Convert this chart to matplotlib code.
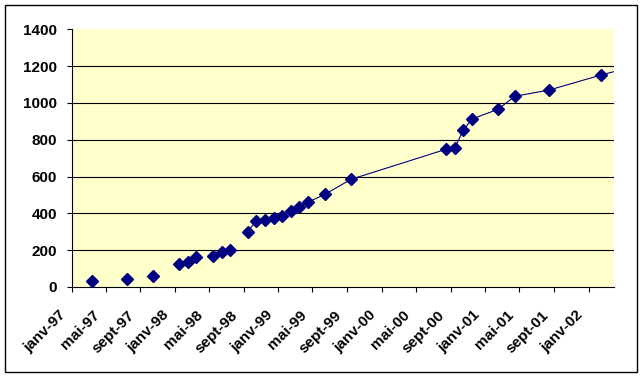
import matplotlib
matplotlib.use("Agg")
import matplotlib.pyplot as plt
import matplotlib.dates as mdates
import matplotlib.transforms as mtransforms
from matplotlib.patches import Rectangle
from datetime import date

# Data (mid-month dates, values)
dates = [
    date(1997, 3, 15), date(1997, 7, 15), date(1997, 10, 15),
    date(1998, 1, 15), date(1998, 2, 15), date(1998, 3, 15),
    date(1998, 5, 15), date(1998, 6, 15), date(1998, 7, 15),
    date(1998, 9, 15), date(1998, 10, 15), date(1998, 11, 15),
    date(1998, 12, 15), date(1999, 1, 15), date(1999, 2, 15),
    date(1999, 3, 15), date(1999, 4, 15), date(1999, 6, 15),
    date(1999, 9, 15), date(2000, 8, 15), date(2000, 9, 15),
    date(2000, 10, 15), date(2000, 11, 15), date(2001, 2, 15),
    date(2001, 4, 15), date(2001, 8, 15), date(2002, 2, 15),
    date(2002, 6, 15),
]
values = [
    30, 42, 58,
    123, 137, 161,
    170, 188, 199,
    300, 360, 366,
    376, 386, 411,
    436, 460, 504,
    585, 748, 754,
    851, 913, 965,
    1036, 1070, 1152,
    1200,
]
# points before this index are drawn without a connecting line
line_start = 9

y_ticks = [0, 200, 400, 600, 800, 1000, 1200, 1400]
month_names = {1: "janv", 5: "mai", 9: "sept"}

navy = "#000080"

plt.rcParams['font.family'] = ['Liberation Sans', 'DejaVu Sans']
plt.rcParams['font.weight'] = 'bold'

fig = plt.figure(figsize=(6.44, 3.79), dpi=100)

ax = fig.add_axes([71.7 / 644, 1 - 287 / 379, (614 - 71.7) / 644, (287 - 29.3) / 379])
ax.set_facecolor("#FFFFCC")

# horizontal gridlines (none at the very top)
for yv in y_ticks[1:-1]:
    ax.axhline(yv, color="black", linewidth=0.8, zorder=1)

ax.plot(dates[line_start:], values[line_start:], color=navy, linewidth=0.8, zorder=2)
ax.plot(dates, values, linestyle="none", marker="D", markersize=6.5,
        color=navy, markeredgecolor=navy, zorder=3)

ax.set_xlim(date(1997, 1, 1), date(2002, 4, 1))
ax.set_ylim(0, 1400)
ax.set_yticks(y_ticks)

ax.xaxis.set_major_locator(mdates.MonthLocator(bymonth=[1, 5, 9]))
ax.xaxis.set_major_formatter(plt.FuncFormatter(
    lambda x, pos: "%s-%02d" % (month_names[mdates.num2date(x).month],
                                mdates.num2date(x).year % 100)))

ax.tick_params(axis="both", direction="out", length=3.6, width=0.8, colors="black",
               labelsize=11)
ax.tick_params(axis="x", pad=3)
ax.tick_params(axis="y", pad=7)

fig.canvas.draw()
shift = mtransforms.ScaledTranslation(-0.13, -0.12, fig.dpi_scale_trans)
for lab in ax.get_xticklabels():
    lab.set_rotation(45)
    lab.set_ha("right")
    lab.set_rotation_mode("anchor")
    lab.set_transform(lab.get_transform() + shift)

for side in ("top", "right"):
    ax.spines[side].set_visible(False)
for side in ("left", "bottom"):
    ax.spines[side].set_color("black")
    ax.spines[side].set_linewidth(0.8)

# outer chart border
fig.patches.append(Rectangle((5 / 644, 1 - 372 / 379), 632 / 644, 367 / 379,
                             transform=fig.transFigure, fill=False,
                             edgecolor="black", linewidth=1.0))

fig.savefig("out.png", dpi=100)
